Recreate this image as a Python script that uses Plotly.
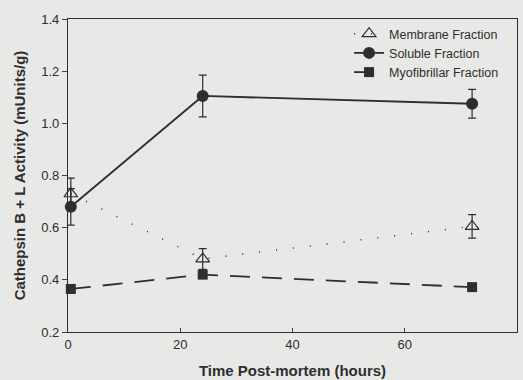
import plotly.graph_objects as go

hours = [0.5, 24, 72]
membrane = [0.73, 0.48, 0.605]
membrane_err = [0.06, 0.04, 0.045]
soluble = [0.68, 1.105, 1.075]
soluble_err = [0.07, 0.08, 0.055]
myofibrillar = [0.365, 0.42, 0.372]
myofibrillar_err = [0.01, 0.01, 0.01]

x_ticks = [0, 20, 40, 60, 80]
y_ticks = [0.2, 0.4, 0.6, 0.8, 1.0, 1.2, 1.4]

bg = "#e8e8e6"
ink = "#2e2e2e"
font_family = "Liberation Sans, Arial, sans-serif"

fig = go.Figure()
fig.add_trace(go.Scatter(
    x=hours, y=membrane, name="Membrane Fraction", mode="lines+markers",
    line=dict(color=ink, width=1.5, dash="1px,16px"),
    marker=dict(symbol="triangle-up-open", size=12, color=ink, line=dict(width=1.2)),
    error_y=dict(type="data", array=membrane_err, color=ink, thickness=1.2, width=4),
    cliponaxis=False,
))
fig.add_trace(go.Scatter(
    x=hours, y=soluble, name="Soluble Fraction", mode="lines+markers",
    line=dict(color=ink, width=1.8),
    marker=dict(symbol="circle", size=12, color=ink),
    error_y=dict(type="data", array=soluble_err, color=ink, thickness=1.2, width=4),
    cliponaxis=False,
))
fig.add_trace(go.Scatter(
    x=hours, y=myofibrillar, name="Myofibrillar Fraction", mode="lines+markers",
    line=dict(color=ink, width=1.8, dash="20px,12px"),
    marker=dict(symbol="square", size=10, color=ink),
    error_y=dict(type="data", array=myofibrillar_err, color=ink, thickness=1.2, width=3),
    cliponaxis=False,
))

fig.update_layout(
    width=523, height=380,
    margin=dict(l=68, r=6, t=19, b=48),
    paper_bgcolor=bg, plot_bgcolor=bg,
    font=dict(family=font_family, size=13, color=ink),
    showlegend=True,
    legend=dict(x=0.626, y=1.0, xanchor="left", yanchor="top",
                bgcolor="rgba(0,0,0,0)", font=dict(size=12.5, color=ink),
                itemwidth=30, tracegroupgap=0),
    xaxis=dict(range=[0, 80], tickvals=x_ticks, ticks="inside", ticklen=4,
               showline=True, mirror=True, linecolor=ink, linewidth=1.3,
               showgrid=False, zeroline=False, automargin=False,
               title=dict(text="<b>Time Post-mortem (hours)</b>", font=dict(size=15), standoff=14),
               tickfont=dict(size=13)),
    yaxis=dict(range=[0.2, 1.4], tickvals=y_ticks, ticks="outside", ticklen=5,
               tickformat=".1f",
               showline=True, mirror=True, linecolor=ink, linewidth=1.3,
               showgrid=False, zeroline=False, automargin=False,
               title=dict(text="<b>Cathepsin B + L Activity (mUnits/g)</b>", font=dict(size=15), standoff=11),
               tickfont=dict(size=13)),
)

fig.write_html("out.html", config={"displayModeBar": False},
               post_script="document.body.style.margin='0';document.body.style.background='%s';" % bg)
